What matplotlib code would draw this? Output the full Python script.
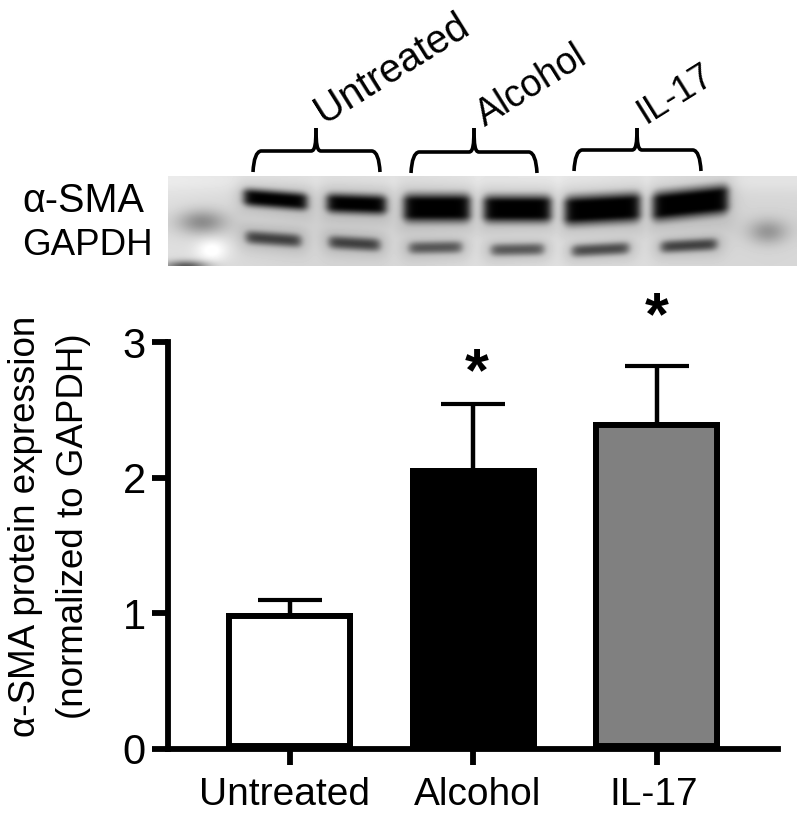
import numpy as np
import matplotlib
matplotlib.use("Agg")
import matplotlib.pyplot as plt
from matplotlib.path import Path
from matplotlib.patches import PathPatch
from matplotlib.transforms import ScaledTranslation

plt.rcParams['font.family'] = ['Liberation Sans', 'DejaVu Sans']

# ---- data ----
categories = ["Untreated", "Alcohol", "IL-17"]
means = [1.0, 2.07, 2.41]
errors = [0.10, 0.47, 0.41]
bar_colors = ["#ffffff", "#000000", "#808080"]
yticks = [0, 1, 2, 3]
stars = [None, 2.76, 3.17]

# blot bands: x0, x1, y at x0, y at x1, half-thickness, darkness (pixel space of the source figure)
sma_bands = [
    (244, 307, 197, 202, 8.5, 1.2), (327, 386, 203, 205, 9.5, 1.2),
    (404, 470, 208, 208, 13, 1.4), (484, 551, 209, 209, 12.5, 1.4),
    (565, 640, 211, 207, 13.5, 1.4), (653, 728, 207, 199, 13.5, 1.4),
]
gapdh_bands = [
    (246, 301, 237, 241, 7, 0.72), (329, 380, 242, 245, 7, 0.72),
    (409, 462, 248, 247, 6.5, 0.62), (491, 544, 250, 249, 6.5, 0.62),
    (572, 629, 251, 248, 6.5, 0.68), (661, 717, 247, 244, 6.5, 0.72),
]
faint_spots = [(202, 222, 24, 12, 0.30), (768, 232, 19, 12, 0.24), (186, 266, 22, 5, 0.55),
               (212, 250, 16, 12, -0.16)]

W, H = 800, 814
fig = plt.figure(figsize=(W / 100, H / 100), dpi=100, facecolor="white")

# ---- overlay in pixel space for the blot, brackets and labels ----
top = fig.add_axes([0, 0, 1, 1], zorder=1)
top.set_xlim(0, W)
top.set_ylim(H, 0)
top.axis("off")

x0, x1, y0, y1 = 168, 797, 176, 266
xx, yy = np.meshgrid(np.arange(x0, x1) + .5, np.arange(y0, y1) + .5)
img = 0.86 + 0.05 * np.exp(-((yy - 180) / 12) ** 2) - 0.02 * np.exp(-((yy - 225) / 15) ** 2)
img = img + 0.02 * np.sin(xx / 70.0)
dark = np.zeros_like(img)


def box(x, a, b, s=5.0):
    return 0.5 * (np.tanh((x - a) / s) - np.tanh((x - b) / s))


for bands in (sma_bands, gapdh_bands):
    for a, b, ya, yb, t, d in bands:
        yc = ya + (yb - ya) * (xx - a) / (b - a)
        prof = np.exp(-np.abs((yy - yc) / t) ** 2.4)
        halo = 0.16 * np.exp(-((yy - yc) / (t * 2.0)) ** 2)
        dark = np.maximum(dark, np.clip(d * prof, 0, 1) * box(xx, a, b, 5.0))
        dark = np.maximum(dark, halo * box(xx, a - 6, b + 6, 8.0))
img = img * (1 - dark)
for cx, cy, sx, sy, amp in faint_spots:
    img = img - amp * np.exp(-((xx - cx) / sx) ** 2 - ((yy - cy) / sy) ** 2)

# soft blur, as in a scanned blot
kern = np.exp(-np.arange(-5, 6) ** 2 / (2 * 1.6 ** 2))
kern /= kern.sum()
pad = np.pad(img, 5, mode="edge")
pad = np.apply_along_axis(lambda v: np.convolve(v, kern, mode="same"), 0, pad)
pad = np.apply_along_axis(lambda v: np.convolve(v, kern, mode="same"), 1, pad)
img = np.clip(pad[5:-5, 5:-5], 0, 1)
top.imshow(img, cmap="gray", vmin=0, vmax=1, extent=(x0, x1, y1, y0),
           aspect="auto", interpolation="bilinear")
top.set_xlim(0, W)
top.set_ylim(H, 0)


def bracket(xl, xr, xm, ybot, yh, ytop):
    codes = [Path.MOVETO, Path.CURVE3, Path.CURVE3, Path.LINETO,
             Path.CURVE4, Path.CURVE4, Path.CURVE4]
    for xe, sgn in ((xl, 1), (xr, -1)):
        verts = [(xe, ybot), (xe + sgn, yh + 1), (xe + sgn * 8, yh), (xm - sgn * 5, yh),
                 (xm - sgn * 1, yh), (xm, yh - 7), (xm, ytop)]
        top.add_patch(PathPatch(Path(verts, codes), fill=False, lw=2.6, ec="black", capstyle="butt"))


bracket(253, 380, 316, 172, 151, 128)
bracket(411, 537, 474, 173, 152, 128)
bracket(574, 701, 637, 171, 150, 128)

top.text(324, 124, "Untreated", fontsize=28.5, rotation=32, rotation_mode="anchor", ha="left", va="baseline")
top.text(485, 127, "Alcohol", fontsize=27, rotation=32, rotation_mode="anchor", ha="left", va="baseline")
top.text(646, 124, "IL-17", fontsize=26, rotation=32, rotation_mode="anchor", ha="left", va="baseline")
top.text(22, 212, "α-SMA", fontsize=28.5, ha="left", va="baseline")
top.text(22, 255, "GAPDH", fontsize=26.5, ha="left", va="baseline")

# ---- bar chart ----
ax_l, ax_r, ax_t, ax_b = 167.5, 778, 342, 749
ax = fig.add_axes([ax_l / W, 1 - ax_b / H, (ax_r - ax_l) / W, (ax_b - ax_t) / H], zorder=2)
ax.patch.set_alpha(0)
x = np.arange(len(categories))
spacing = 183.7
ax.set_xlim(-(289.5 - ax_l) / spacing, (ax_r - 289.5) / spacing)
ax.set_ylim(0, 3)

eb = ax.errorbar(x, means, yerr=[[0] * 3, errors], fmt="none", ecolor="black",
                 elinewidth=3.2, capsize=23, capthick=3.0, zorder=1)
eb[1][0].set_visible(False)
bars = ax.bar(x, means, width=127 / spacing, color=bar_colors, edgecolor="black",
              linewidth=8.6, zorder=2)
for b in bars:
    b.set_clip_path(b)

for s in ("top", "right"):
    ax.spines[s].set_visible(False)
for s in ("left", "bottom"):
    ax.spines[s].set_linewidth(4.2)
    ax.spines[s].set_zorder(3)
ax.set_xticks(x, categories)
ax.set_yticks(yticks)
ax.tick_params(axis="both", length=11.5, width=4.2, labelsize=28)
ax.tick_params(axis="x", pad=9)
ax.tick_params(axis="y", pad=4, labelsize=30)
offsets = [-5, 4, -3]
for lab, dx in zip(ax.get_xticklabels(), offsets):
    lab.set_transform(lab.get_transform() + ScaledTranslation(dx / 72 * 0.72, 0, fig.dpi_scale_trans))

for xi, s, dx in zip(x, stars, [0, 0.02, 0.0]):
    if s is not None:
        ax.text(xi + dx, s, "*", fontsize=44, fontweight="bold", ha="center", va="center", clip_on=False)

top.text(26, 526, "α-SMA protein expression", fontsize=26.5, rotation=90, ha="center", va="center")
top.text(74, 526, "(normalized to GAPDH)", fontsize=26.5, rotation=90, ha="center", va="center")

fig.savefig("out.png", dpi=100, facecolor="white")
